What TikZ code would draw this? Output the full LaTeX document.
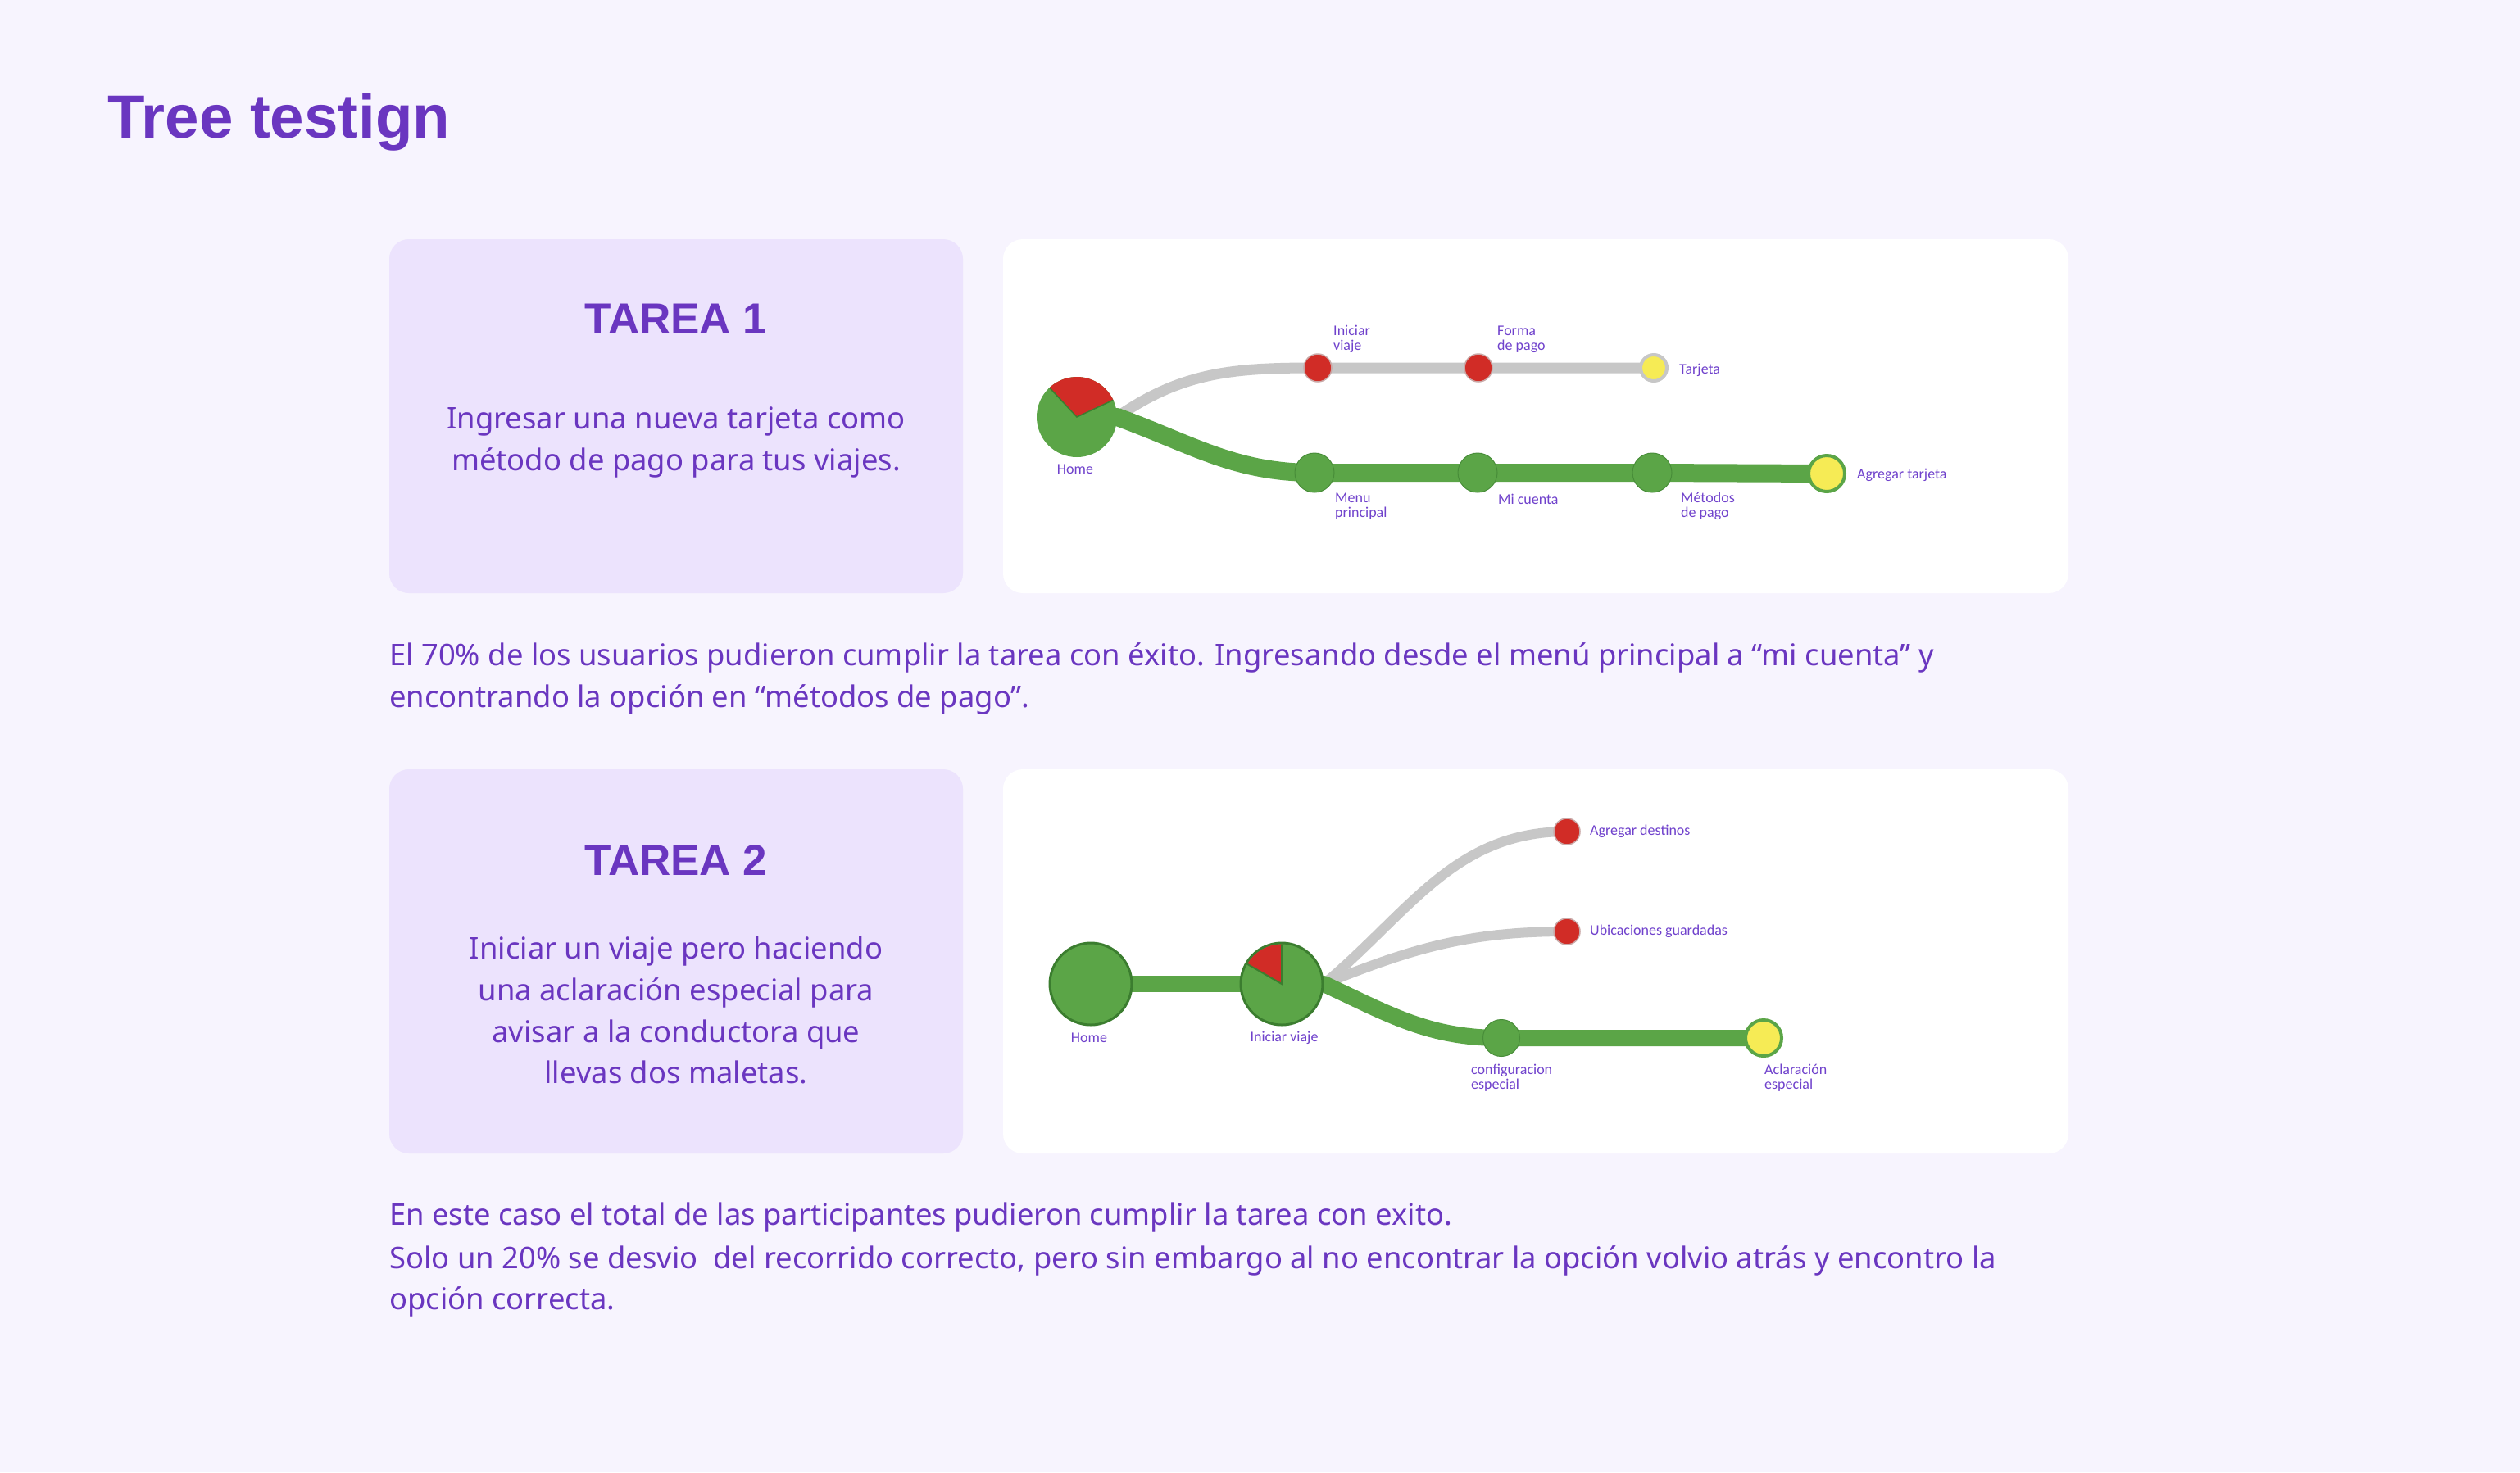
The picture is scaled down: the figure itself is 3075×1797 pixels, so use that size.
\documentclass[tikz,border=0pt]{standalone}
\usepackage{fontspec}
\setmainfont{Noto Sans}
\newfontfamily\headfont{Liberation Sans}
\newfontfamily\lblfont{Carlito}
\usetikzlibrary{calc}
\definecolor{bgc}{HTML}{F7F4FE}
\definecolor{boxc}{HTML}{ECE3FD}
\definecolor{purp}{HTML}{6A36C0}
\definecolor{lblc}{HTML}{7042CC}
\definecolor{greenN}{HTML}{5BA547}
\definecolor{darkG}{HTML}{3B7D2F}
\definecolor{redN}{HTML}{D12C26}
\definecolor{yelN}{HTML}{F6EB55}
\definecolor{greyP}{HTML}{C7C7C7}
\pgfdeclarelayer{bgl}
\pgfdeclarelayer{edgel}
\pgfsetlayers{bgl,edgel,main}
\begin{document}
\begin{tikzpicture}[x=1pt,y=-1pt,
  card/.style={fill=boxc, rounded corners=24pt},
  panel/.style={fill=white, rounded corners=24pt},
  titletxt/.style={text=purp, inner sep=0pt, font=\headfont\bfseries\fontsize{74.5}{80}\selectfont},
  tareatxt/.style={text=purp, inner sep=0pt, font=\headfont\bfseries\fontsize{53}{60}\selectfont},
  bodytxt/.style={text=purp, inner sep=0pt, font=\fontsize{36.4}{42}\selectfont},
  lbl/.style={text=lblc, inner sep=0pt, align=left, font=\lblfont\fontsize{18}{18}\selectfont},
  gnode/.style={circle, fill=greenN, draw=darkG!60!greenN, line width=1pt, inner sep=0pt, minimum size=#1},
  bignode/.style={circle, fill=greenN, draw=darkG, line width=3pt, inner sep=0pt, minimum size=#1},
  rnode/.style={circle, fill=redN, draw=greyP!80!redN, line width=1.5pt, inner sep=0pt, minimum size=#1},
  ynode/.style={circle, fill=yelN, draw=#1, line width=4pt, inner sep=0pt, minimum size=40pt},
  greypath/.style={draw=greyP, line width=13pt, line join=round},
  greenpath/.style={draw=greenN, line width=22pt, line join=round},
]
\useasboundingbox (0,0) rectangle (3075,1797);
\begin{pgfonlayer}{bgl}
\fill[bgc] (0,0) rectangle (3075,1797);
\fill[card] (475,292) rectangle (1175,724);
\fill[panel] (1224,292) rectangle (2524,724);
\fill[card] (475,939) rectangle (1175,1408);
\fill[panel] (1224,939) rectangle (2524,1408);
\end{pgfonlayer}

% Title
\node[titletxt, anchor=base west] (title) at (131,168) {Tree testign};

% Task 1 card
\node[tareatxt, anchor=base] (t1title) at (825,407) {TAREA 1};
\node[bodytxt, anchor=base] (t1l1) at (825,523) {Ingresar una nueva tarjeta como};
\node[bodytxt, anchor=base] (t1l2) at (825,574) {método de pago para tus viajes.};

% Task 2 card
\node[tareatxt, anchor=base] (t2title) at (825,1068) {TAREA 2};
\node[bodytxt, anchor=base] (t2l1) at (825,1170) {Iniciar un viaje pero haciendo};
\node[bodytxt, anchor=base] (t2l2) at (825,1221) {una aclaración especial para};
\node[bodytxt, anchor=base] (t2l3) at (825,1272) {avisar a la conductora que};
\node[bodytxt, anchor=base] (t2l4) at (825,1322) {llevas dos maletas.};

% Paragraph 1
\node[bodytxt, anchor=base west] (p1l1) at (475,812) {El 70\% de los usuarios pudieron cumplir la tarea con éxito. Ingresando desde el menú principal a “mi cuenta” y};
\node[bodytxt, anchor=base west] (p1l2) at (475,863) {encontrando la opción en “métodos de pago”.};

% Paragraph 2
\node[bodytxt, anchor=base west] (p2l1) at (475,1495) {En este caso el total de las participantes pudieron cumplir la tarea con exito.};
\node[bodytxt, anchor=base west] (p2l2) at (475,1548) {Solo un 20\% se desvio\ \ del recorrido correcto, pero sin embargo al no encontrar la opción volvio atrás y encontro la};
\node[bodytxt, anchor=base west] (p2l3) at (475,1598) {opción correcta.};

% ---------- Tree 1 ----------
\node[circle, fill=greenN, inner sep=0pt, minimum size=98pt] (h1) at (1314,509) {};
\node[rnode=34pt] (i1) at (1608,449) {};
\node[rnode=34pt] (f1) at (1804,449) {};
\node[ynode=greyP, minimum size=32pt] (ta1) at (2018,449) {};
\node[gnode=48pt] (m1) at (1604,577) {};
\node[gnode=48pt] (c1) at (1803,577) {};
\node[gnode=48pt] (p1) at (2016,577) {};
\node[ynode=greenN, minimum size=44pt] (a1) at (2229,578) {};
\fill[redN] (h1.center) -- ++(25:49pt) arc[start angle=25, end angle=133, radius=49pt] -- cycle;
\draw[darkG, line width=1.5pt] ($(h1.center)+(25:49pt)$) -- (h1.center) -- ($(h1.center)+(133:49pt)$);

\begin{pgfonlayer}{edgel}
\draw[greypath] (h1.center) -- (h1.east) to[out=35, in=180] (i1.center) -- (f1.center) -- (ta1.center);
\draw[greenpath] (h1.center) -- (h1.east) to[out=-20, in=180] (m1.center) -- (c1.center) -- (p1.center) -- (a1.center);
\end{pgfonlayer}

\node[lbl, anchor=west] (li1) at (1627,414) {Iniciar\\viaje};
\node[lbl, anchor=west] (lf1) at (1827,414) {Forma\\de pago};
\node[lbl, anchor=west] (lt1) at (2049,452) {Tarjeta};
\node[lbl] (lh1) at (1312,573) {Home};
\node[lbl, anchor=west] (lm1) at (1629,618) {Menu\\principal};
\node[lbl, anchor=west] (lc1) at (1828,609) {Mi cuenta};
\node[lbl, anchor=west] (lp1) at (2051,618) {Métodos\\de pago};
\node[lbl, anchor=west] (la1) at (2266,580) {Agregar tarjeta};

% ---------- Tree 2 ----------
\node[bignode=100pt] (h2) at (1331,1201) {};
\node[bignode=100pt] (v2) at (1564,1201) {};
\node[rnode=32pt] (d2) at (1912,1015) {};
\node[rnode=32pt] (u2) at (1912,1137) {};
\node[gnode=45pt] (s2) at (1832,1267) {};
\node[ynode=greenN, minimum size=44pt] (e2) at (2152,1267) {};
\fill[redN] (v2.center) -- ++(90:48.5pt) arc[start angle=90, end angle=150, radius=48.5pt] -- cycle;
\draw[darkG, line width=2pt] ($(v2.center)+(90:48.5pt)$) -- (v2.center) -- ($(v2.center)+(150:48.5pt)$);

\begin{pgfonlayer}{edgel}
\draw[greenpath, line width=20pt] (h2.center) -- (v2.center);
\draw[greypath, line width=12pt] (v2.center) -- (v2.east) to[out=40, in=180] (d2.center);
\draw[greypath, line width=12pt] (v2.center) -- (v2.east) to[out=22, in=180] (u2.center);
\draw[greenpath, line width=20pt] (v2.center) -- (v2.east) to[out=-25, in=180] (s2.center) -- (e2.center);
\end{pgfonlayer}

\node[lbl] (lh2) at (1329,1267) {Home};
\node[lbl] (lv2) at (1567,1267) {Iniciar viaje};
\node[lbl, anchor=west] (ld2) at (1940,1015) {Agregar destinos};
\node[lbl, anchor=west] (lu2) at (1940,1137) {Ubicaciones guardadas};
\node[lbl, anchor=west] (ls2) at (1795,1316) {configuracion\\especial};
\node[lbl, anchor=west] (le2) at (2153,1316) {Aclaración\\especial};
\end{tikzpicture}
\end{document}
